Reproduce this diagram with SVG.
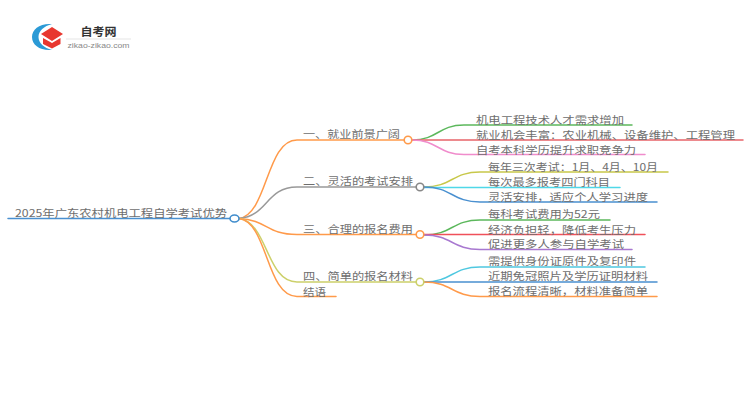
<svg xmlns="http://www.w3.org/2000/svg" width="750" height="410" viewBox="0 0 750 410">
<style>
text{font-family:"Noto Sans CJK SC","Liberation Sans",sans-serif;font-size:10.300px;fill:#6e6e6e}
.c{fill:none;stroke-width:1.5;stroke-linecap:round}
.n{fill:#fff;stroke-width:1.6}
</style>
<rect width="750" height="410" fill="#fff"/>
<g id="logo">
<path d="M52 24C40 23 32 29 32 37C32 45 40 51 52 50C44 48 38.500 43 38.500 37C38.500 31 44 26 52 24Z" fill="#2b9ad6"/>
<path d="M52 27L63 34L52 41L41 34Z" fill="#e8372f"/>
<path d="M43 38L52 43L60.500 38V44L52 48.500L43 44Z" fill="#e8372f"/>
<text x="80.500" y="35.500" textLength="36" lengthAdjust="spacingAndGlyphs" style="font-size:11.500px;font-weight:700;fill:#333">自考网</text>
<rect x="66" y="38.500" width="65" height="1" fill="#e6e6e6"/>
<text x="67.500" y="48" textLength="62" lengthAdjust="spacingAndGlyphs" style="font-family:'Liberation Sans',sans-serif;font-size:7.700px;fill:#888">zikao-zikao.com</text>
</g>
<g id="connectors">
<path class="c" stroke="#4a90d0" d="M8 218.500H230"/>
<path class="c" stroke="#ff9a4a" d="M239 218.500C268 214 266 140 297 140H404"/>
<path class="c" stroke="#999" d="M239 218.500C268 216 266 187 297 187H416"/>
<path class="c" stroke="#ff9a4a" d="M239 218.500C268 220 266 234.500 297 234.500H416"/>
<path class="c" stroke="#ccd06a" d="M239 218.500C268 222 266 282 297 282H416"/>
<path class="c" stroke="#ff9a4a" d="M239 218.500C268 222 266 296.500 297 296.500H336"/>
<path class="c" stroke="#5cb85c" d="M412 140C438 140 438 125 464 125H632"/>
<path class="c" stroke="#e8646a" d="M412 140H743"/>
<path class="c" stroke="#f08ccc" d="M412 140C438 140 438 154.500 464 154.500H645"/>
<path class="c" stroke="#c8c84a" d="M424 187C452 187 452 172 480 172H668"/>
<path class="c" stroke="#4fd8e8" d="M424 187.500H620"/>
<path class="c" stroke="#4a90d0" d="M424 187C452 187 452 202 480 202H657"/>
<path class="c" stroke="#5cb85c" d="M424 235C452 235 452 220 480 220H610"/>
<path class="c" stroke="#f0505a" d="M424 234.500H645"/>
<path class="c" stroke="#a878d0" d="M424 235C452 235 452 249.500 480 249.500H632"/>
<path class="c" stroke="#4fc8e0" d="M424 282C452 282 452 267 480 267H645"/>
<path class="c" stroke="#4a90d0" d="M424 282H657"/>
<path class="c" stroke="#ff9a4a" d="M424 282C452 282 452 296.500 480 296.500H657"/>
</g>
<g id="root"><text x="15" y="217" textLength="212" lengthAdjust="spacingAndGlyphs">2025年广东农村机电工程自学考试优势</text><ellipse class="n" cx="234.500" cy="218.500" rx="4.500" ry="3.500" stroke="#3f8ccc"/></g>
<g id="b1"><text x="303" y="138" textLength="97" lengthAdjust="spacingAndGlyphs">一、就业前景广阔</text><circle class="n" cx="408" cy="140" r="3.800" stroke="#ff9a4a"/></g>
<g id="b2"><text x="303" y="185" textLength="110" lengthAdjust="spacingAndGlyphs">二、灵活的考试安排</text><circle class="n" cx="420" cy="187" r="3.800" stroke="#888"/></g>
<g id="b3"><text x="303" y="233" textLength="110" lengthAdjust="spacingAndGlyphs">三、合理的报名费用</text><circle class="n" cx="420" cy="234.500" r="3.800" stroke="#ff9a4a"/></g>
<g id="b4"><text x="303" y="280" textLength="110" lengthAdjust="spacingAndGlyphs">四、简单的报名材料</text><circle class="n" cx="420" cy="282" r="3.800" stroke="#ccd06a"/></g>
<g id="b5"><text x="303" y="295.500" textLength="23" lengthAdjust="spacingAndGlyphs">结语</text></g>
<g id="l11"><text x="476" y="123.500" textLength="148" lengthAdjust="spacingAndGlyphs">机电工程技术人才需求增加</text></g>
<g id="l12"><text x="476" y="139" textLength="259" lengthAdjust="spacingAndGlyphs">就业机会丰富：农业机械、设备维护、工程管理</text></g>
<g id="l13"><text x="476" y="153.500" textLength="160" lengthAdjust="spacingAndGlyphs">自考本科学历提升求职竞争力</text></g>
<g id="l21"><text x="488" y="171" textLength="170" lengthAdjust="spacingAndGlyphs">每年三次考试：1月、4月、10月</text></g>
<g id="l22"><text x="488" y="186" textLength="122" lengthAdjust="spacingAndGlyphs">每次最多报考四门科目</text></g>
<g id="l23"><text x="488" y="200.500" textLength="160" lengthAdjust="spacingAndGlyphs">灵活安排，适应个人学习进度</text></g>
<g id="l31"><text x="488" y="217.500" textLength="112" lengthAdjust="spacingAndGlyphs">每科考试费用为52元</text></g>
<g id="l32"><text x="488" y="233.500" textLength="148" lengthAdjust="spacingAndGlyphs">经济负担轻，降低考生压力</text></g>
<g id="l33"><text x="488" y="248" textLength="136" lengthAdjust="spacingAndGlyphs">促进更多人参与自学考试</text></g>
<g id="l41"><text x="488" y="265" textLength="148" lengthAdjust="spacingAndGlyphs">需提供身份证原件及复印件</text></g>
<g id="l42"><text x="488" y="280" textLength="160" lengthAdjust="spacingAndGlyphs">近期免冠照片及学历证明材料</text></g>
<g id="l43"><text x="488" y="295" textLength="160" lengthAdjust="spacingAndGlyphs">报名流程清晰，材料准备简单</text></g>
</svg>
